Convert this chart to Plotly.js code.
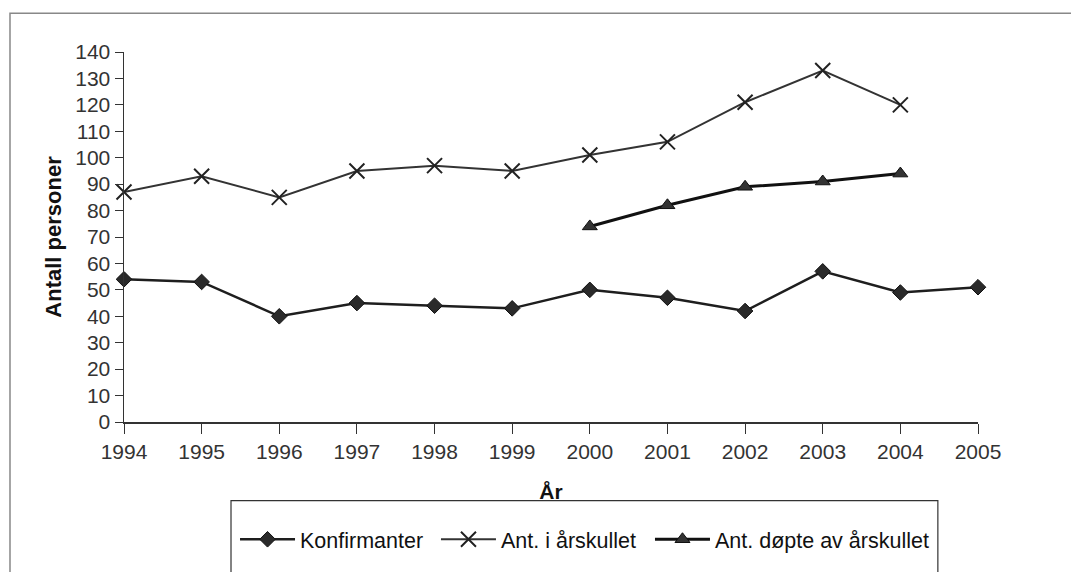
<!DOCTYPE html>
<html>
<head>
<meta charset="utf-8">
<script src="https://cdn.plot.ly/plotly-3.0.1.min.js"></script>
<style>
html,body{margin:0;padding:0;background:#fff;}
#chart{width:1071px;height:572px;}
</style>
</head>
<body>
<div id="chart"></div>
<script>
const years = [1994,1995,1996,1997,1998,1999,2000,2001,2002,2003,2004,2005];
const konfirmanter = [54,53,40,45,44,43,50,47,42,57,49,51];
const antYears = [1994,1995,1996,1997,1998,1999,2000,2001,2002,2003,2004];
const antIArskullet = [87,93,85,95,97,95,101,106,121,133,120];
const dopteYears = [2000,2001,2002,2003,2004];
const antDopte = [74,82,89,91,94];
const seriesNames = ['Konfirmanter','Ant. i årskullet','Ant. døpte av årskullet'];
const xTitle = 'År';
const yTitle = 'Antall personer';

const FONT = 'Liberation Sans, Arial, sans-serif';

const traces = [
  {
    x: years, y: konfirmanter, name: seriesNames[0], type: 'scatter', mode: 'lines+markers',
    legend: 'legend',
    line: {color: '#1e1e1e', width: 2.5},
    marker: {symbol: 'diamond', size: 12, color: '#2a2a2a', line: {color: '#111', width: 1}},
    cliponaxis: false
  },
  {
    x: antYears, y: antIArskullet, name: seriesNames[1], type: 'scatter', mode: 'lines+markers',
    legend: 'legend2',
    line: {color: '#333', width: 2},
    marker: {symbol: 'x-thin-open', size: 15, color: '#222', line: {color: '#222', width: 2}},
    cliponaxis: false
  },
  {
    x: dopteYears, y: antDopte, name: seriesNames[2], type: 'scatter', mode: 'lines+markers',
    legend: 'legend3',
    line: {color: '#111', width: 3},
    marker: {symbol: 'triangle-up', size: 13, color: '#333', line: {color: '#111', width: 1}},
    cliponaxis: false
  }
];

function legendAt(x) {
  return {
    orientation: 'h', x: x, xanchor: 'left', y: -0.317, yanchor: 'middle',
    font: {family: FONT, size: 21.5, color: '#111'},
    bgcolor: 'rgba(0,0,0,0)', borderwidth: 0, itemwidth: 55
  };
}

const layout = {
  width: 1071, height: 572,
  margin: {l: 124, r: 93, t: 52, b: 148},
  paper_bgcolor: '#fff', plot_bgcolor: '#fff',
  font: {family: FONT, color: '#222', size: 21},
  showlegend: true,
  legend: legendAt(0.130),
  legend2: legendAt(0.3653),
  legend3: legendAt(0.6159),
  xaxis: {
    range: [1994, 2005], tickmode: 'array', tickvals: years, ticktext: years.map(String),
    showgrid: false, zeroline: false, showline: true, linecolor: '#333', linewidth: 1.5,
    ticks: 'outside', ticklen: 10, tickcolor: '#333', tickwidth: 1,
    tickfont: {family: FONT, size: 21, color: '#333'},
    title: {text: xTitle, font: {family: FONT, size: 21, color: '#111', weight: 'bold'}, standoff: 22}
  },
  yaxis: {
    range: [0, 140], dtick: 10, tick0: 0,
    showgrid: false, zeroline: false, showline: true, linecolor: '#333', linewidth: 1.5,
    ticks: 'outside', ticklen: 8, tickcolor: '#333', tickwidth: 1,
    tickfont: {family: FONT, size: 21, color: '#333'},
    title: {text: yTitle, font: {family: FONT, size: 22, color: '#111', weight: 'bold'}, standoff: 7}
  },
  shapes: [
    {type: 'rect', xref: 'paper', yref: 'paper', x0: -0.1335, x1: 1.12, y0: -0.45, y1: 1.105,
     line: {color: '#888', width: 1.5}, fillcolor: 'rgba(0,0,0,0)', layer: 'below'},
    {type: 'rect', xref: 'paper', yref: 'paper', x0: 0.1253, x1: 0.953, y0: -0.45, y1: -0.2124,
     line: {color: '#333', width: 1.2}, fillcolor: 'rgba(0,0,0,0)', layer: 'below'}
  ]
};

Plotly.newPlot('chart', traces, layout, {displayModeBar: false, staticPlot: true});
</script>
</body>
</html>
